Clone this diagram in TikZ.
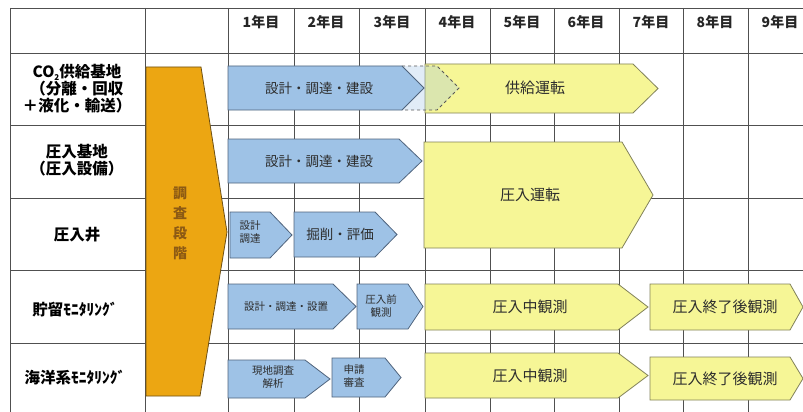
\documentclass[tikz,border=0pt]{standalone}
\usepackage{fontspec}
\newfontfamily\jp{Noto Sans CJK JP}
\definecolor{gridc}{RGB}{80,80,80}
\definecolor{bluef}{RGB}{158,194,230}
\definecolor{blued}{RGB}{80,100,125}
\definecolor{yelf}{RGB}{246,246,150}
\definecolor{yeld}{RGB}{130,130,90}
\definecolor{orf}{RGB}{236,166,18}
\definecolor{ord}{RGB}{110,80,20}
\definecolor{ortx}{RGB}{140,90,20}
\definecolor{txt}{RGB}{45,45,45}
\newcommand{\garrow}[6]{\draw[#1] (#2,#3) -- (#4,#3) -- (#5,{(#3+#6)/2}) -- (#4,#6) -- (#2,#6) -- cycle;}
\tikzset{
  gridline/.style={draw=gridc, line width=0.7pt},
  bluearrow/.style={fill=bluef, draw=blued, line width=0.8pt, line join=miter},
  yelarrow/.style={fill=yelf, draw=yeld, line width=0.8pt},
  rowlabel/.style={font=\jp\bfseries\fontsize{15.5}{17}\selectfont, align=center, inner sep=0pt, text=black},
  yearlabel/.style={font=\jp\bfseries\fontsize{14}{16}\selectfont, inner sep=0pt, text=black!85},
  btext/.style={font=\jp\fontsize{13.5}{15}\selectfont, inner sep=0pt, text=txt, align=center},
  stext/.style={font=\jp\fontsize{10.5}{13.5}\selectfont, inner sep=0pt, text=txt, align=center},
  ytext/.style={font=\jp\fontsize{15}{17}\selectfont, inner sep=0pt, text=txt},
}
\begin{document}
\begin{tikzpicture}[x=1pt,y=-1pt]
\useasboundingbox (0,0) rectangle (803,412);
\fill[white] (0,0) rectangle (803,412);
% grid
\foreach \yy in {8,53,125,198,270,343} \draw[gridline] (10,\yy) -- (803,\yy);
\foreach \xx in {10,145,228,294,359,425,490,554,619,683,748} \draw[gridline] (\xx,8) -- (\xx,412);
% year labels
\foreach \n/\xx in {1/261,2/326,3/392,4/457,5/522,6/586,7/651,8/715,9/780}
  \node[yearlabel] (y\n) at (\xx,22) {\n{}年目};
% row labels
\node[rowlabel] (r1) at (77,89) {CO\raisebox{-0.35ex}{\fontsize{8}{8}\selectfont 2}供給基地\\（分離・回収\\＋液化・輸送）};
\node[rowlabel] (r2) at (77,160) {圧入基地\\（圧入設備）};
\node[rowlabel] (r3) at (77,235) {圧入井};
\node[rowlabel] (r4) at (75,310) {貯留ﾓﾆﾀﾘﾝｸﾞ};
\node[rowlabel] (r5) at (75,378) {海洋系ﾓﾆﾀﾘﾝｸﾞ};
% orange phase
\draw[fill=orf, draw=ord, line width=0.8pt] (146,67) -- (201,67) -- (227,232) -- (200,396) -- (146,396) -- cycle;
\node[font=\jp\bfseries\fontsize{14}{20}\selectfont, text=ortx, align=center, inner sep=0pt] (phase) at (180,223) {調\\査\\段\\階};
% row 1
\garrow{yelarrow}{425}{64}{633}{658}{113}
\node[ytext] (t1b) at (535,88) {供給運転};
\draw[dashed, draw=gray!70!black, line width=0.8pt, fill=bluef, fill opacity=0.3] (402,66) -- (437,66) -- (459,88) -- (437,110) -- (402,110) -- cycle;
\garrow{bluearrow}{228}{66}{402}{424}{110}
\node[btext] (t1a) at (319,88) {設計・調達・建設};
% row 2-3 yellow
\garrow{yelarrow}{424}{142}{622}{653}{248}
\node[ytext] (t23) at (530,195) {圧入運転};
% row 2 blue
\garrow{bluearrow}{228}{139}{399}{422}{183}
\node[btext] (t2a) at (319,161) {設計・調達・建設};
% row 3
\garrow{bluearrow}{230}{212}{270}{292}{258}
\node[stext] (t3a) at (250,232) {設計\\調達};
\garrow{bluearrow}{294}{212}{375}{397}{257}
\node[btext] (t3b) at (340,234) {掘削・評価};
% row 4
\garrow{bluearrow}{228}{284}{333}{356}{329}
\node[stext] (t4a) at (286,307) {設計・調達・設置};
\garrow{bluearrow}{357}{284}{408}{423}{329}
\node[stext] (t4b) at (381,306) {圧入前\\観測};
\garrow{yelarrow}{425}{284}{618}{648}{330}
\node[ytext] (t4c) at (530,307) {圧入中観測};
\garrow{yelarrow}{650}{284}{790}{803}{330}
\node[ytext] (t4d) at (725,307) {圧入終了後観測};
% row 5
\garrow{bluearrow}{228}{360}{305}{330}{398}
\node[stext] (t5a) at (273,377) {現地調査\\解析};
\garrow{bluearrow}{332}{358}{385}{401}{397}
\node[stext] (t5b) at (354,376) {申請\\審査};
\garrow{yelarrow}{425}{353}{618}{648}{398}
\node[ytext] (t5c) at (530,376) {圧入中観測};
\garrow{yelarrow}{650}{357}{790}{803}{400}
\node[ytext] (t5d) at (725,379) {圧入終了後観測};
\end{tikzpicture}
\end{document}
